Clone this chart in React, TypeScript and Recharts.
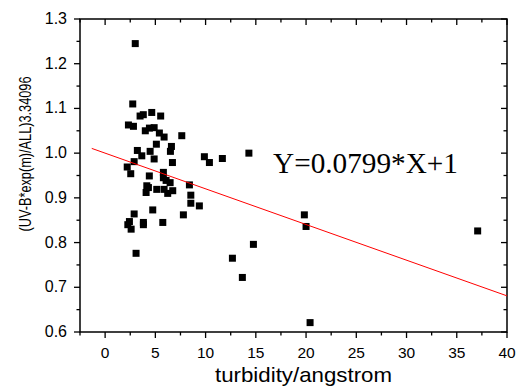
import React from 'react';
import { ScatterChart, Scatter, XAxis, YAxis, ReferenceArea } from 'recharts';

// measured points (turbidity/angstrom, normalized UV-B)
const xValues = [
  3.0, 2.75, 3.48, 3.8, 4.64, 5.53, 2.32, 2.82, 4.0, 4.41, 4.88, 5.4, 5.87, 7.63, 5.1, 6.6,
  3.21, 3.65, 4.48, 6.5, 4.88, 6.7, 2.89, 2.2, 2.55, 4.4, 5.8, 5.8, 6.07, 6.47, 8.39, 4.15,
  4.31, 4.08, 5.14, 5.87, 6.23, 6.73, 8.53, 8.53, 9.38, 4.74, 7.79, 2.89, 2.42, 2.26, 2.59,
  3.81, 3.81, 5.74, 3.08, 9.88, 10.38, 11.67, 14.31, 19.83, 20.0, 14.76, 12.67, 13.66, 20.4,
  37.08,
];
const yValues = [
  1.245, 1.11, 1.083, 1.086, 1.091, 1.083, 1.063, 1.06, 1.05, 1.056, 1.057, 1.045, 1.036, 1.039,
  1.02, 1.015, 1.006, 0.994, 1.004, 1.004, 0.987, 0.979, 0.981, 0.969, 0.954, 0.949, 0.957,
  0.945, 0.939, 0.934, 0.929, 0.927, 0.923, 0.912, 0.919, 0.919, 0.91, 0.916, 0.906, 0.888,
  0.882, 0.873, 0.862, 0.864, 0.847, 0.84, 0.83, 0.845, 0.84, 0.845, 0.776, 0.992, 0.979,
  0.988, 1.0, 0.862, 0.836, 0.796, 0.765, 0.722, 0.621, 0.826,
];

// fitted line end points as drawn
const fitX = [-1.33, 40];
const fitY = [1.0106, 0.6808];

const xTicks = [-2.5, 0, 2.5, 5, 7.5, 10, 12.5, 15, 17.5, 20, 22.5, 25, 27.5, 30, 32.5, 35, 37.5, 40];
const yTicks = [0.6, 0.65, 0.7, 0.75, 0.8, 0.85, 0.9, 0.95, 1.0, 1.05, 1.1, 1.15, 1.2, 1.25, 1.3];
const xDomain = [-2.5, 40];
const yDomain = [0.6, 1.3];

const xLabel = 'turbidity/angstrom';
const yLabel = '(UV-B*exp(m)/ALL)3.34096';
const formula = 'Y=0.0799*X+1';

const points = xValues.map((x, i) => ({ x, y: yValues[i] }));
const fitLine = fitX.map((x, i) => ({ x, y: fitY[i] }));

// tick marks on all four sides, placed through the chart scales
const bottomMarks = xTicks.map((v) => ({ x: v, y: yDomain[0] }));
const topMarks = xTicks.map((v) => ({ x: v, y: yDomain[1] }));
const leftMarks = yTicks.map((v) => ({ x: xDomain[0], y: v }));
const rightMarks = yTicks.map((v) => ({ x: xDomain[1], y: v }));

const SANS = '"Liberation Sans", Arial, sans-serif';
const SERIF = '"Liberation Serif", "Times New Roman", serif';
const AX = '#000';

const isMajorX = (v: number) => Math.abs(v % 5) < 1e-6;
const isMajorY = (v: number) => Math.round(v * 100) % 10 === 0;

const vMark = (dir: number) => (p: any) => {
  const len = isMajorX(p.payload.x) ? 6 : 3.5;
  return <rect x={p.cx - 0.65} y={dir > 0 ? p.cy : p.cy - len} width={1.3} height={len} fill={AX} />;
};
const hMark = (dir: number) => (p: any) => {
  const len = isMajorY(p.payload.y) ? 6 : 3.5;
  return <rect x={dir > 0 ? p.cx : p.cx - len} y={p.cy - 0.65} width={len} height={1.3} fill={AX} />;
};

const BottomTick = ({ x, y, payload }: any) =>
  isMajorX(payload.value) ? (
    <text x={x} y={y + 26} textAnchor="middle" fontSize={15.5} fontFamily={SANS} fill="#000">
      {payload.value}
    </text>
  ) : (
    <g />
  );

const LeftTick = ({ x, y, payload }: any) =>
  isMajorY(payload.value) ? (
    <text x={x - 13} y={y + 5} textAnchor="end" fontSize={16} fontFamily={SANS} fill="#000">
      {payload.value.toFixed(1)}
    </text>
  ) : (
    <g />
  );

const Square = (p: any) => <rect x={p.cx - 3.5} y={p.cy - 3.5} width={7} height={7} fill="#000" />;

export default function App() {
  return (
    <div style={{ position: 'absolute', left: 0, top: 0, background: '#fff' }}>
      <ScatterChart width={521} height={387} margin={{ top: 19, right: 14, bottom: 0, left: 0 }}>
        <XAxis
          type="number"
          dataKey="x"
          domain={xDomain}
          ticks={xTicks}
          height={55}
          tickSize={0}
          tickMargin={0}
          tickLine={false}
          axisLine={false}
          tick={(p: any) => <BottomTick {...p} />}
        />
        <YAxis
          type="number"
          dataKey="y"
          domain={yDomain}
          ticks={yTicks}
          width={80}
          tickSize={0}
          tickMargin={0}
          tickLine={false}
          axisLine={false}
          tick={(p: any) => <LeftTick {...p} />}
        />
        <ReferenceArea
          x1={xDomain[0]}
          x2={xDomain[1]}
          y1={yDomain[0]}
          y2={yDomain[1]}
          fill="none"
          fillOpacity={0}
          stroke={AX}
          strokeWidth={1.5}
          strokeOpacity={1}
        />
        <Scatter data={bottomMarks} shape={vMark(1)} isAnimationActive={false} />
        <Scatter data={topMarks} shape={vMark(1)} isAnimationActive={false} />
        <Scatter data={leftMarks} shape={hMark(-1)} isAnimationActive={false} />
        <Scatter data={rightMarks} shape={hMark(-1)} isAnimationActive={false} />
        <Scatter data={points} shape={Square} isAnimationActive={false} />
        <Scatter
          data={fitLine}
          line={{ stroke: '#ff0000', strokeWidth: 1 }}
          shape={() => <g />}
          isAnimationActive={false}
        />
        <text
          x={273}
          y={173}
          fontSize={29}
          fontFamily={SERIF}
          fill="#000"
          textLength={185}
          lengthAdjust="spacingAndGlyphs"
        >
          {formula}
        </text>
        <text
          x={303.5}
          y={382}
          textAnchor="middle"
          fontSize={21}
          fontFamily={SANS}
          fill="#000"
          textLength={177}
          lengthAdjust="spacingAndGlyphs"
        >
          {xLabel}
        </text>
        <text
          x={0}
          y={0}
          transform="translate(31,154) rotate(-90)"
          textAnchor="middle"
          fontSize={17}
          fontFamily={SANS}
          fill="#000"
          textLength={155}
          lengthAdjust="spacingAndGlyphs"
        >
          {yLabel}
        </text>
      </ScatterChart>
    </div>
  );
}
